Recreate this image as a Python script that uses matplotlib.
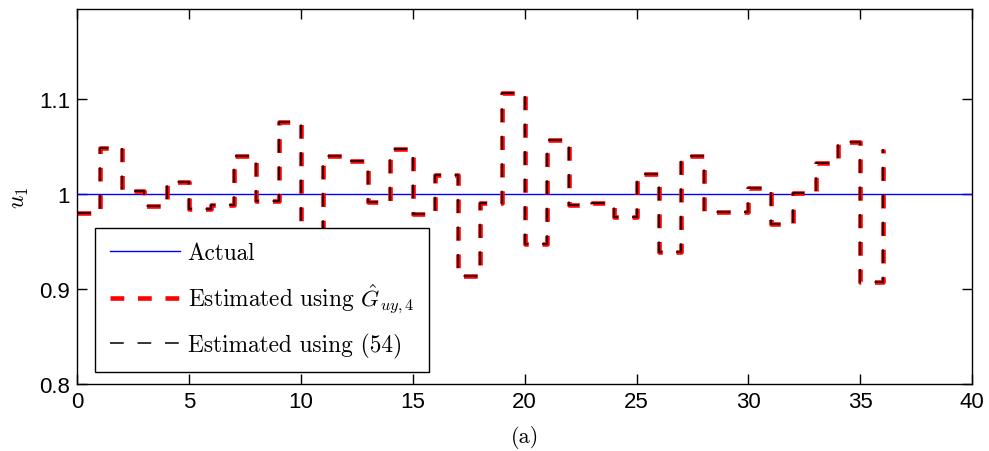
import numpy as np
import matplotlib
matplotlib.use("Agg")
import matplotlib.pyplot as plt

# input value per sample interval (stairs data, last value at t=36)
t = np.arange(0, 37)
u_est = [0.980, 1.049, 1.003, 0.988, 1.013, 0.984, 0.989, 1.040, 0.993, 1.076,
         0.955, 1.040, 1.035, 0.992, 1.048, 0.979, 1.020, 0.914, 0.991, 1.107,
         0.948, 1.057, 0.989, 0.991, 0.976, 1.021, 0.939, 1.040, 0.981, 0.981,
         1.007, 0.969, 1.001, 1.033, 1.055, 0.907, 1.048]
actual_x = [0, 40]
actual_u = [1.0, 1.0]

xticks = [0, 5, 10, 15, 20, 25, 30, 35, 40]
yticks = [0.8, 0.9, 1.0, 1.1]
ytick_labels = ["0.8", "0.9", "1", "1.1"]

plt.rcParams["mathtext.fontset"] = "cm"
plt.rcParams["font.family"] = ["Liberation Sans", "DejaVu Sans"]

fig = plt.figure(figsize=(9.89, 4.52), dpi=100)
ax = fig.add_axes([0.078, 0.148, 0.905, 0.830])

ax.plot(actual_x, actual_u, color="#0000ff", lw=1.0, label="Actual")
ax.step(t, u_est, where="post", color="red", lw=3.3,
        linestyle=(0, (3.0, 3.0)), label=r"Estimated using $\hat{G}_{uy,4}$")
ax.step(t, u_est, where="post", color="black", lw=1.1,
        linestyle=(0, (9.0, 9.0)), label="Estimated using (54)")

ax.set_xlim(0, 40)
ax.set_ylim(0.8, 1.195)
ax.set_xticks(xticks)
ax.set_yticks(yticks)
ax.set_yticklabels(ytick_labels)
ax.tick_params(direction="in", length=7, width=1, top=True, right=True,
               labelsize=16, pad=5)
for s in ax.spines.values():
    s.set_linewidth(1.0)

ax.set_ylabel(r"$u_1$", fontsize=17, labelpad=6)
ax.set_xlabel("(a)", fontsize=16, family="cmr10", labelpad=9)

leg = ax.legend(loc="lower left", bbox_to_anchor=(0.02, 0.032),
                prop={"family": "cmr10", "size": 16.8}, fancybox=False,
                edgecolor="black", framealpha=1, handlelength=3.0,
                labelspacing=0.75, borderpad=0.62, handletextpad=0.35,
                borderaxespad=0)
leg.get_frame().set_linewidth(1.0)

fig.savefig("out.png", dpi=100)
